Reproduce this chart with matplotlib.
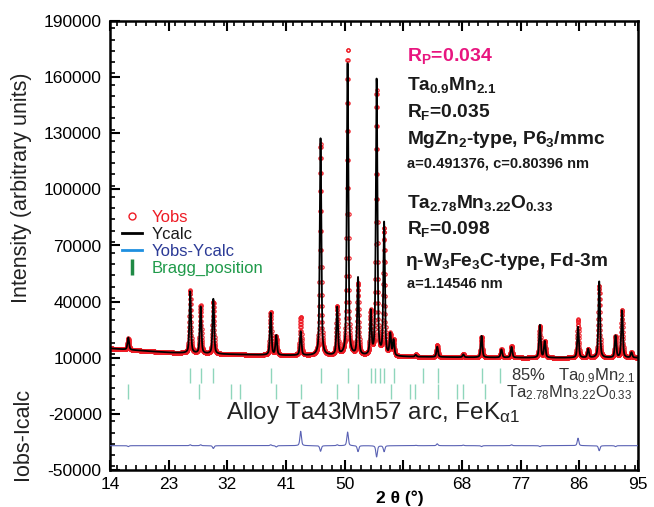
import numpy as np
import matplotlib
matplotlib.use("Agg")
import matplotlib.pyplot as plt
from matplotlib.lines import Line2D
from matplotlib.ticker import MultipleLocator

plt.rcParams['font.family'] = ['Liberation Sans', 'DejaVu Sans']
plt.rcParams['mathtext.default'] = 'regular'

# ---- data ----
peak_pos = [16.8, 26.3, 27.9, 29.85, 38.65, 39.5, 43.25, 46.3, 48.85, 50.45,
            52.05, 54.0, 54.9, 56.05, 57.0, 57.5, 60.9, 64.2, 68.2, 71.0,
            74.05, 75.6, 79.95, 80.7, 85.8, 87.35, 89.05, 91.55, 92.55, 94.0]
calc_height = [6500, 33000, 25000, 29500, 22500, 10500, 12800, 116000, 25500, 156700,
               41500, 23000, 147500, 71000, 11500, 8300, 1000, 5500, 1500, 11500,
               4300, 5700, 17500, 8700, 16500, 4600, 40900, 11700, 25300, 2800]
obs_height = [6000, 33500, 25500, 28000, 23000, 9800, 20500, 113000, 26000, 164000,
              38300, 23000, 141500, 67800, 11500, 8300, 1200, 6500, 1800, 11000,
              4300, 6200, 17000, 8700, 20500, 4600, 38200, 11200, 25300, 2800]
bg_2theta = [14, 20, 23, 30, 40, 50, 60, 70, 80, 95]
bg_int = [15000, 13500, 12800, 12000, 11300, 11000, 10500, 10200, 10000, 10000]

bragg_phase1 = [26.3, 27.9, 29.85, 38.65, 46.3, 50.55, 54.05, 54.7, 55.35, 56.1,
                57.5, 62.0, 64.3, 71.0, 73.9]
bragg_phase2 = [16.8, 27.65, 32.5, 34.0, 39.5, 43.25, 48.85, 52.1, 57.1, 60.0,
                60.8, 64.35, 67.3, 68.1, 71.6]

resid_offset = -37000

xticks = [14, 23, 32, 41, 50, 59, 68, 77, 86, 95]
xticklabels = ['14', '23', '32', '41', '50', '', '68', '77', '86', '95']
yticks = [-50000, -20000, 10000, 40000, 70000, 100000, 130000, 160000, 190000]

# ---- build profiles from the peak list ----
tt = np.arange(14, 95.0001, 0.02)
fwhm = 0.28


def profile(heights):
    y = np.interp(tt, bg_2theta, bg_int).astype(float)
    for p, h in zip(peak_pos, heights):
        d = (tt - p) / (fwhm / 2)
        lor = 1.0 / (1.0 + d ** 2)
        gau = np.exp(-np.log(2) * d ** 2)
        y += h * (0.5 * lor + 0.5 * gau)
    return y


ycalc = profile(calc_height)
yobs = profile(obs_height)
resid = yobs - ycalc + resid_offset

fig = plt.figure(figsize=(6.54, 5.07), dpi=100)
ax = fig.add_axes([110 / 654, 37 / 507, 528 / 654, 449 / 507])

ax.plot(tt, yobs, linestyle='none', marker='o', markersize=2.4, markerfacecolor='none',
        markeredgecolor='#ee1c25', markeredgewidth=0.8, zorder=2)
ax.plot(tt, ycalc, color='black', lw=1.3, zorder=3)
ax.plot(tt, resid, color='#5a62b4', lw=0.8, zorder=3)

ax.vlines(bragg_phase1, -3300, 4700, color='#8fd6bc', lw=1.0)
ax.vlines(bragg_phase2, -11800, -3800, color='#8fd6bc', lw=1.0)

ax.set_xlim(14, 95)
ax.set_ylim(-50000, 190000)
ax.set_xticks(xticks)
ax.set_xticklabels(xticklabels)
ax.set_yticks(yticks)
ax.set_yticklabels([str(v) for v in yticks])
ax.xaxis.set_minor_locator(MultipleLocator(1.5))
ax.yaxis.set_minor_locator(MultipleLocator(6000))
ax.tick_params(which='both', direction='in', top=True, right=False, colors='black')
ax.tick_params(which='major', length=7, width=1.5, labelsize=12.5, pad=5)
ax.tick_params(which='minor', length=3.5, width=1.2)
ax.tick_params(axis='y', which='major', pad=6)
for s in ax.spines.values():
    s.set_linewidth(1.8)

fig.text(22 / 654, 1 - 188 / 507, 'Intensity (arbitrary units)', rotation=90,
         ha='center', va='center', fontsize=15.5, color='#222222')
fig.text(23 / 654, 1 - 434 / 507, 'Iobs-Icalc', rotation=90,
         ha='center', va='center', fontsize=15.5, color='#222222')
fig.text(400 / 654, 1 - 498 / 507, '2 θ (°)', ha='center', va='center',
         fontsize=12.5, fontweight='bold')


def axfrac(px, py):
    return (px - 110) / 528, (470 - py) / 449


def put(px, py, s, size, color='#1a1a1a', weight='bold'):
    x, y = axfrac(px, py)
    ax.text(x, y, s, transform=ax.transAxes, ha='left', va='center',
            fontsize=size, color=color, fontweight=weight)


put(407, 56, 'R$_P$=0.034', 14, color='#e8157f')
put(407, 85, 'Ta$_{0.9}$Mn$_{2.1}$', 13.8)
put(407, 112, 'R$_F$=0.035', 13.8)
put(407, 140, 'MgZn$_2$-type, P6$_3$/mmc', 13.8)
put(407, 164, 'a=0.491376, c=0.80396 nm', 10.5)
put(407, 203, 'Ta$_{2.78}$Mn$_{3.22}$O$_{0.33}$', 13.8)
put(407, 229, 'R$_F$=0.098', 13.8)
put(405, 261, 'η-W$_3$Fe$_3$C-type, Fd-3m', 13.8)
put(407, 284, 'a=1.14546 nm', 10.5)

put(511, 376, '85%   Ta$_{0.9}$Mn$_{2.1}$', 12, color='#333333', weight='normal')
put(506, 393, 'Ta$_{2.78}$Mn$_{3.22}$O$_{0.33}$', 12, color='#333333', weight='normal')
put(226, 413, 'Alloy Ta43Mn57 arc, FeK$_{α1}$', 17.5, color='#222222', weight='normal')

handles = [
    Line2D([], [], linestyle='none', marker='o', markersize=5, markerfacecolor='none',
           markeredgecolor='#ee1c25', markeredgewidth=1.0),
    Line2D([], [], color='black', lw=2),
    Line2D([], [], color='#1e8fe0', lw=2),
    Line2D([], [], linestyle='none', marker='|', markersize=11, markeredgewidth=2.5,
           color='#1f8a45'),
]
labels = ['Yobs', 'Ycalc', 'Yobs-Ycalc', 'Bragg_position']
lx, ly = axfrac(122, 210)
leg = ax.legend(handles, labels, loc='upper left', bbox_to_anchor=(lx, ly),
                frameon=False, fontsize=12, handlelength=1.2, handletextpad=0.6,
                labelspacing=0.12, borderpad=0, borderaxespad=0,
                labelcolor=['#ee1c25', '#1a1a1a', '#2b3a96', '#1f9a4a'])

fig.savefig('out.png', dpi=100)
